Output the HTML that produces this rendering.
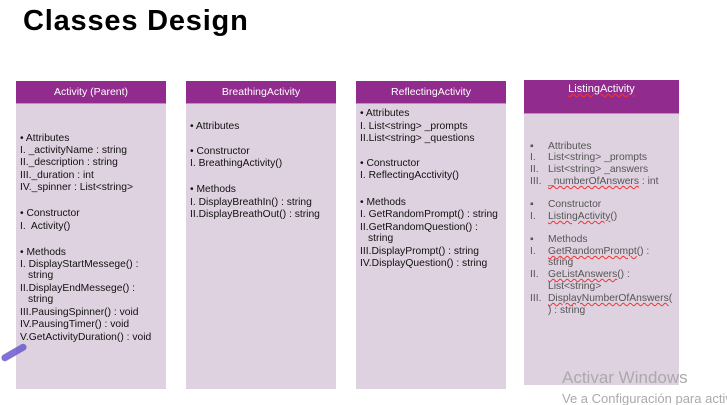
<!DOCTYPE html>
<html><head><meta charset="utf-8"><style>
body{margin:0;width:727px;height:405px;background:#fff;position:relative;overflow:hidden;font-family:"Liberation Sans",sans-serif}
.t{position:absolute;left:23px;top:5px;font-size:29px;font-weight:bold;letter-spacing:0.8px;color:#000}
.b{position:absolute;background:#dfd2e0}
.h{position:absolute;background:#922b8e;color:#fff;font-size:10.5px;text-align:center;border-bottom:1px solid #b98fc0}
.l{position:absolute;font-size:10.3px;color:#111;white-space:nowrap;line-height:11px}
.g{color:#555}
.u{text-decoration:underline wavy #e33;text-decoration-thickness:1px}
</style></head><body>
<div class="t">Classes Design</div>

<div class="b" style="left:16px;top:81px;width:150px;height:308px"></div>
<div class="h" style="left:16px;top:81px;width:150px;height:22px;line-height:22px">Activity (Parent)</div>
<div class="b" style="left:186px;top:81px;width:150px;height:308px"></div>
<div class="h" style="left:186px;top:81px;width:150px;height:22px;line-height:22px">BreathingActivity</div>
<div class="b" style="left:356px;top:81px;width:150px;height:308px"></div>
<div class="h" style="left:356px;top:81px;width:150px;height:22px;line-height:22px">ReflectingActivity</div>
<div class="b" style="left:524px;top:80px;width:155px;height:305px"></div>
<div class="h" style="left:524px;top:80px;width:155px;height:33px;line-height:18px;font-size:11px"><span style="text-decoration:underline wavy #e33">ListingActivity</span></div>

<div class="l" style="left:20px;top:133px">• Attributes</div>
<div class="l" style="left:20px;top:145px">I. _activityName : string</div>
<div class="l" style="left:20px;top:157px">II._description : string</div>
<div class="l" style="left:20px;top:170px">III._duration : int</div>
<div class="l" style="left:20px;top:182px">IV._spinner : List&lt;string&gt;</div>
<div class="l" style="left:20px;top:208px">• Constructor</div>
<div class="l" style="left:20px;top:221px">I.&nbsp; Activity()</div>
<div class="l" style="left:20px;top:247px">• Methods</div>
<div class="l" style="left:20px;top:259px">I. DisplayStartMessege() :</div>
<div class="l" style="left:28px;top:270px">string</div>
<div class="l" style="left:20px;top:283px">II.DisplayEndMessege() :</div>
<div class="l" style="left:28px;top:294px">string</div>
<div class="l" style="left:20px;top:307px">III.PausingSpinner() : void</div>
<div class="l" style="left:20px;top:319px">IV.PausingTimer() : void</div>
<div class="l" style="left:20px;top:332px">V.GetActivityDuration() : void</div>
<div style="position:absolute;left:0;top:349px;width:28px;height:7px;background:#6a5acd;border-radius:4px;transform:rotate(-30deg);opacity:.85"></div>

<div class="l" style="left:190px;top:121px">• Attributes</div>
<div class="l" style="left:190px;top:146px">• Constructor</div>
<div class="l" style="left:190px;top:158px">I. BreathingActivity()</div>
<div class="l" style="left:190px;top:184px">• Methods</div>
<div class="l" style="left:190px;top:197px">I. DisplayBreathIn() : string</div>
<div class="l" style="left:190px;top:209px">II.DisplayBreathOut() : string</div>

<div class="l" style="left:360px;top:108px">• Attributes</div>
<div class="l" style="left:360px;top:121px">I. List&lt;string&gt; _prompts</div>
<div class="l" style="left:360px;top:133px">II.List&lt;string&gt; _questions</div>
<div class="l" style="left:360px;top:158px">• Constructor</div>
<div class="l" style="left:360px;top:170px">I. ReflectingAcctivity()</div>
<div class="l" style="left:360px;top:197px">• Methods</div>
<div class="l" style="left:360px;top:209px">I. GetRandomPrompt() : string</div>
<div class="l" style="left:360px;top:222px">II.GetRandomQuestion() :</div>
<div class="l" style="left:368px;top:233px">string</div>
<div class="l" style="left:360px;top:246px">III.DisplayPrompt() : string</div>
<div class="l" style="left:360px;top:258px">IV.DisplayQuestion() : string</div>

<div class="l g" style="left:530px;top:141px">▪</div><div class="l g" style="left:548px;top:141px">Attributes</div>
<div class="l g" style="left:530px;top:152px">I.</div><div class="l g" style="left:548px;top:152px">List&lt;string&gt; _prompts</div>
<div class="l g" style="left:530px;top:164px">II.</div><div class="l g" style="left:548px;top:164px">List&lt;string&gt; _answers</div>
<div class="l g" style="left:530px;top:176px">III.</div><div class="l g" style="left:548px;top:176px"><span class="u">_numberOfAnswers</span> : int</div>
<div class="l g" style="left:530px;top:199px">▪</div><div class="l g" style="left:548px;top:199px">Constructor</div>
<div class="l g" style="left:530px;top:211px">I.</div><div class="l g" style="left:548px;top:211px"><span class="u">ListingActivity</span>()</div>
<div class="l g" style="left:530px;top:234px">▪</div><div class="l g" style="left:548px;top:234px">Methods</div>
<div class="l g" style="left:530px;top:246px">I.</div><div class="l g" style="left:548px;top:246px"><span class="u">GetRandomPrompt</span>() :</div>
<div class="l g" style="left:548px;top:257px">string</div>
<div class="l g" style="left:530px;top:269px">II.</div><div class="l g" style="left:548px;top:269px"><span class="u">GeListAnswers</span>() :</div>
<div class="l g" style="left:548px;top:281px">List&lt;string&gt;</div>
<div class="l g" style="left:530px;top:293px">III.</div><div class="l g" style="left:548px;top:293px"><span class="u">DisplayNumberOfAnswers</span>(</div>
<div class="l g" style="left:548px;top:305px">) : string</div>

<div style="position:absolute;left:562px;top:368px;font-size:17px;color:#aaa;white-space:nowrap">Activar Windows</div>
<div style="position:absolute;left:562px;top:392px;width:165px;height:13px;overflow:hidden;font-size:13px;line-height:13px;color:#aaa;white-space:nowrap">Ve a Configuración para activar Windows.</div>
</body></html>
